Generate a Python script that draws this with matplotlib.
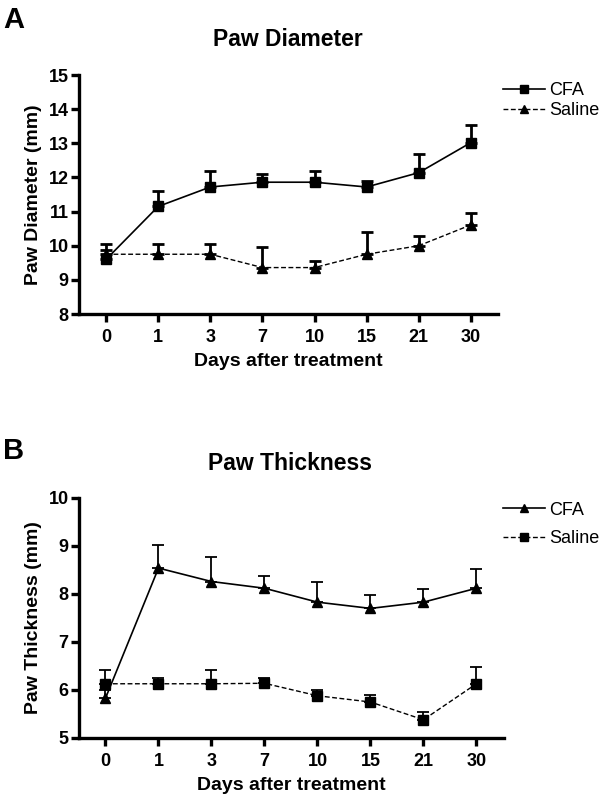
import matplotlib.pyplot as plt
from matplotlib.lines import Line2D

plt.rcParams['font.family'] = ['Liberation Sans', 'DejaVu Sans']

days = ["0", "1", "3", "7", "10", "15", "21", "30"]

# panel A - paw diameter (mm)
dia_cfa = [9.60, 11.15, 11.72, 11.86, 11.86, 11.72, 12.14, 13.02]
dia_cfa_err = [0.28, 0.45, 0.46, 0.25, 0.34, 0.17, 0.55, 0.51]
dia_sal = [9.75, 9.75, 9.75, 9.36, 9.36, 9.75, 10.0, 10.61]
dia_sal_err = [0.30, 0.30, 0.30, 0.61, 0.19, 0.65, 0.27, 0.34]

# panel B - paw thickness (mm)
thk_cfa = [5.83, 8.54, 8.26, 8.12, 7.83, 7.70, 7.83, 8.12]
thk_cfa_err = [0.17, 0.48, 0.52, 0.26, 0.41, 0.28, 0.27, 0.40]
thk_sal = [6.13, 6.13, 6.13, 6.14, 5.88, 5.75, 5.38, 6.13]
thk_sal_err = [0.28, 0.12, 0.28, 0.12, 0.11, 0.15, 0.17, 0.35]

x = list(range(len(days)))
dash = (0, (3.5, 1.8))

fig = plt.figure(figsize=(6, 7.99), dpi=100)


def panel(rect, xlim, ylim, s1, e1, m1, s2, e2, m2, ylabel, elw, spw):
    ax = fig.add_axes(rect)
    ax.errorbar(x, s1, yerr=[[0] * len(x), e1], color="black", lw=1.2,
                marker=m1, ms=7, elinewidth=elw, capsize=4.5, capthick=elw,
                zorder=3)
    ax.errorbar(x, s2, yerr=[[0] * len(x), e2], color="black", lw=1.0,
                ls=dash, marker=m2, ms=7, elinewidth=elw,
                capsize=4.5, capthick=elw, zorder=3)
    ax.set_xlim(*xlim)
    ax.set_ylim(*ylim)
    ax.set_xticks(x)
    ax.set_xticklabels(days)
    ax.set_yticks(range(ylim[0], ylim[1] + 1))
    for s in ["top", "right"]:
        ax.spines[s].set_visible(False)
    for s in ["left", "bottom"]:
        ax.spines[s].set_linewidth(spw)
    ax.tick_params(width=spw, length=5.5, labelsize=13)
    ax.tick_params(axis="x", pad=5)
    ax.tick_params(axis="y", pad=2)
    for t in ax.get_xticklabels() + ax.get_yticklabels():
        t.set_fontweight("bold")
    ax.set_xlabel("Days after treatment", fontsize=14, fontweight="bold",
                  labelpad=5)
    ax.set_ylabel(ylabel, fontsize=14, fontweight="bold", labelpad=5)
    # plain legend handles, no error bars
    h = [Line2D([], [], color="black", lw=1.2, marker=m1, ms=6),
         Line2D([], [], color="black", lw=1.0, ls=dash, marker=m2, ms=6)]
    return ax, h


axA, hA = panel([79 / 600, 1 - 314 / 799, 419 / 600, 239 / 799],
                (-0.52, 7.52), (8, 15), dia_cfa, dia_cfa_err, "s",
                dia_sal, dia_sal_err, "^", "Paw Diameter (mm)", 2.0, 2.4)
axA.legend(hA, ["CFA", "Saline"], loc="center left",
           bbox_to_anchor=(503 / 600, 1 - 100.5 / 799),
           bbox_transform=fig.transFigure, frameon=False, fontsize=13,
           handlelength=2.3, handletextpad=0.25, labelspacing=0.15,
           borderpad=0, borderaxespad=0)

axB, hB = panel([79 / 600, 1 - 738 / 799, 425 / 600, 240 / 799],
                (-0.5, 7.52), (5, 10), thk_cfa, thk_cfa_err, "^",
                thk_sal, thk_sal_err, "s", "Paw Thickness (mm)", 1.3, 2.4)
axB.legend(hB, ["CFA", "Saline"], loc="center left",
           bbox_to_anchor=(503 / 600, 1 - 524.5 / 799),
           bbox_transform=fig.transFigure, frameon=False, fontsize=13,
           handlelength=2.3, handletextpad=0.25, labelspacing=0.65,
           borderpad=0, borderaxespad=0)

fig.text(0.005, 1 - 20 / 799, "A", fontsize=21, fontweight="bold", va="center")
fig.text(0.005, 1 - 451 / 799, "B", fontsize=21, fontweight="bold", va="center")
fig.text(288 / 600, 1 - 40 / 799, "Paw Diameter", fontsize=16.5,
         fontweight="bold", ha="center", va="center")
fig.text(290 / 600, 1 - 464 / 799, "Paw Thickness", fontsize=16.5,
         fontweight="bold", ha="center", va="center")

fig.savefig("out.png", dpi=100)
